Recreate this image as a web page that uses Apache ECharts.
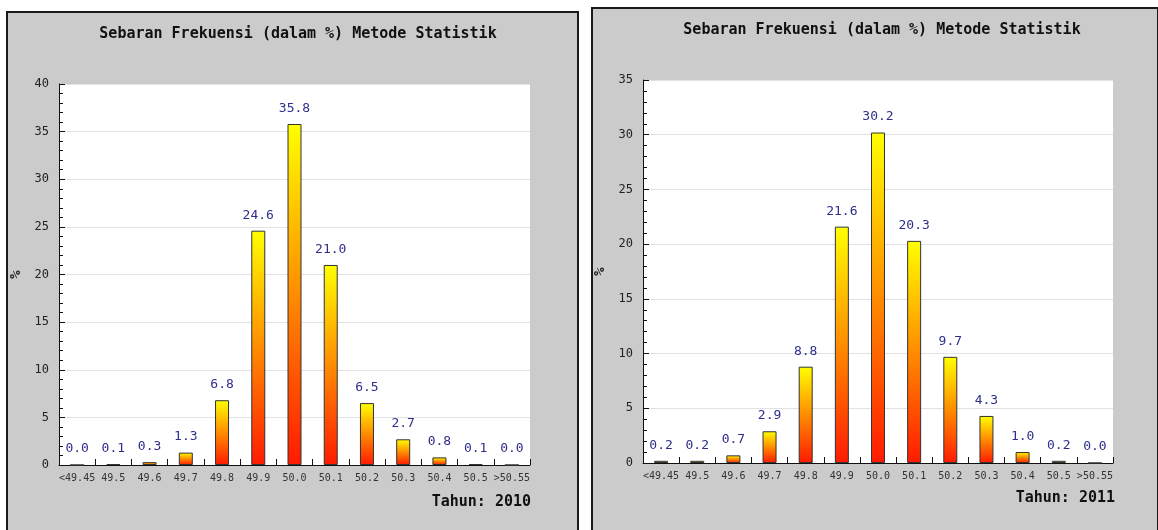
<!DOCTYPE html>
<html>
<head>
<meta charset="utf-8">
<script src="https://cdn.jsdelivr.net/npm/echarts@6/dist/echarts.min.js"></script>
<style>
html,body{margin:0;padding:0;background:#fff;}
#chart{width:1158px;height:530px;}
</style>
</head>
<body>
<div id="chart"></div>
<script>
var categories = ["<49.45","49.5","49.6","49.7","49.8","49.9","50.0","50.1","50.2","50.3","50.4","50.5",">50.55"];
var values2010 = [0.0, 0.1, 0.3, 1.3, 6.8, 24.6, 35.8, 21.0, 6.5, 2.7, 0.8, 0.1, 0.0];
var values2011 = [0.2, 0.2, 0.7, 2.9, 8.8, 21.6, 30.2, 20.3, 9.7, 4.3, 1.0, 0.2, 0.0];
var chartTitle = "Sebaran Frekuensi (dalam %) Metode Statistik";
var yearLabels = ["Tahun: 2010", "Tahun: 2011"];
var yMax = [40, 35];

var mono = "'DejaVu Sans Mono', 'Liberation Mono', monospace";
var chart = echarts.init(document.getElementById('chart'));

function yAxis(idx, max) {
  return {
    type: 'value', gridIndex: idx, min: 0, max: max, interval: 5,
    name: '%', nameLocation: 'middle', nameGap: 36, nameRotate: 90,
    nameTextStyle: {fontFamily: mono, fontWeight: 'bold', fontSize: 14, color: '#222'},
    axisLine: {show: true, lineStyle: {color: '#111', width: 1}},
    axisTick: {show: true, inside: true, length: 6, lineStyle: {color: '#111'}},
    minorTick: {show: true, splitNumber: 5, length: 4, lineStyle: {color: '#111'}},
    axisLabel: {fontFamily: mono, fontSize: 12, color: '#222', margin: 10},
    splitLine: {show: true, lineStyle: {color: '#e2e2e2', width: 1}}
  };
}
function xAxis(idx) {
  return {
    type: 'category', gridIndex: idx, data: categories,
    axisLine: {show: true, lineStyle: {color: '#111', width: 1}},
    axisTick: {show: true, inside: true, length: 6, lineStyle: {color: '#111'}},
    axisLabel: {fontFamily: mono, fontSize: 10, color: '#333', margin: 8, interval: 0}
  };
}
function barSeries(idx, data) {
  return {
    type: 'bar', xAxisIndex: idx, yAxisIndex: idx, data: data, barWidth: 14,
    itemStyle: {
      color: new echarts.graphic.LinearGradient(0, 0, 0, 1, [
        {offset: 0, color: '#ffff00'},
        {offset: 0.5, color: '#ff8c00'},
        {offset: 1, color: '#ff1a00'}
      ]),
      borderColor: '#333', borderWidth: 1
    },
    label: {
      show: true, position: 'top', distance: 9,
      fontFamily: mono, fontSize: 13, color: '#2e2e8c',
      formatter: function (p) { return p.value.toFixed(1); }
    }
  };
}

chart.setOption({
  animation: false,
  backgroundColor: '#fff',
  graphic: [
    {type: 'rect', z: -10, shape: {x: 7, y: 12, width: 571, height: 540}, style: {fill: '#cbcbcb', stroke: '#1a1a1a', lineWidth: 2}},
    {type: 'rect', z: -10, shape: {x: 592, y: 8, width: 566, height: 540}, style: {fill: '#cbcbcb', stroke: '#1a1a1a', lineWidth: 2}}
  ],
  title: [
    {text: chartTitle, left: 293, top: 22, textAlign: 'center', textStyle: {fontFamily: mono, fontSize: 15, fontWeight: 'bold', color: '#111'}},
    {text: chartTitle, left: 877, top: 18, textAlign: 'center', textStyle: {fontFamily: mono, fontSize: 15, fontWeight: 'bold', color: '#111'}},
    {text: yearLabels[0], left: 526, top: 490, textAlign: 'right', textStyle: {fontFamily: mono, fontSize: 15, fontWeight: 'bold', color: '#111'}},
    {text: yearLabels[1], left: 1110, top: 486, textAlign: 'right', textStyle: {fontFamily: mono, fontSize: 15, fontWeight: 'bold', color: '#111'}}
  ],
  grid: [
    {left: 59, top: 84, width: 471, height: 381, show: true, backgroundColor: '#ffffff', borderWidth: 0},
    {left: 643, top: 80, width: 470, height: 383, show: true, backgroundColor: '#ffffff', borderWidth: 0}
  ],
  xAxis: [xAxis(0), xAxis(1)],
  yAxis: [yAxis(0, yMax[0]), yAxis(1, yMax[1])],
  series: [barSeries(0, values2010), barSeries(1, values2011)]
});
</script>
</body>
</html>
